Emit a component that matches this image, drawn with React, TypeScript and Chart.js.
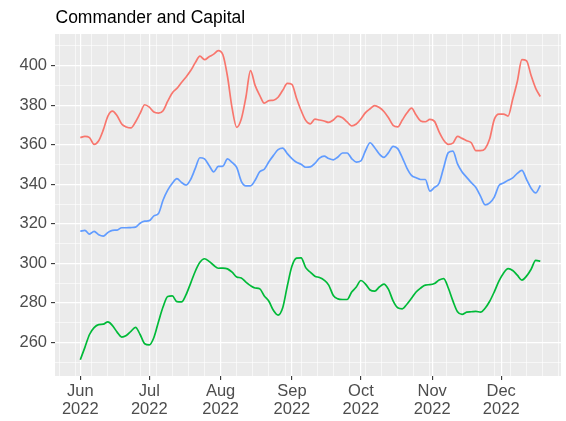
import React, { useEffect, useRef } from "react";
import { Chart, registerables } from "chart.js";

Chart.register(...registerables);

const TITLE = "Commander and Capital";

// days since 2022-06-01
const DAYS = [
  0, 2, 4, 6, 8, 10, 12, 14, 16, 18, 20, 22, 24, 26, 28, 30, 32, 34, 36, 38,
  40, 42, 44, 46, 48, 50, 52, 54, 56, 58, 60, 62, 64, 66, 68, 70, 72, 74, 76, 78,
  80, 82, 84, 86, 88, 90, 92, 94, 96, 98, 100, 102, 104, 106, 108, 110, 112, 114, 116, 118,
  120, 122, 124, 126, 128, 130, 132, 134, 136, 138, 140, 142, 144, 146, 148, 150, 152, 154, 156, 158,
  160, 162, 164, 166, 168, 170, 172, 174, 176, 178, 180, 182, 184, 186, 188, 190, 192, 194, 196, 198,
  200,
];

const RED = [
  363.6, 364.2, 363.6, 360.2, 362.0, 367.5, 374.5, 377.0, 374.6, 370.5,
  369.0, 368.5, 371.5, 375.8, 380.2, 379.0, 376.5, 376.0, 377.2, 382.0,
  386.2, 388.5, 391.5, 394.3, 397.5, 401.5, 404.8, 403.0, 404.5, 405.8,
  407.6, 405.5, 394.5, 378.5, 368.8, 373.0, 384.0, 397.5, 390.0, 385.0,
  381.0, 382.3, 382.5, 384.0, 387.5, 391.0, 390.5, 383.5, 377.3, 372.3,
  370.5, 372.9, 372.5, 372.0, 371.3, 372.5, 374.5, 373.6, 371.5, 369.5,
  370.5, 373.0, 376.2, 378.2, 379.8, 378.8, 376.8, 373.6, 369.8, 369.0,
  372.5, 376.0, 378.5, 375.0, 372.0, 371.6, 372.8, 371.8, 366.5, 362.3,
  360.2, 360.8, 364.2, 363.2, 362.0, 361.0, 357.0, 357.0, 358.0, 363.0,
  372.8, 375.5, 375.5, 374.5, 383.0, 392.0, 403.0, 402.5, 395.0, 388.5,
  384.4,
];

const BLUE = [
  316.2, 316.7, 314.8, 316.2, 314.5, 313.8, 315.6, 316.7, 316.8, 318.0,
  318.0, 318.1, 318.3, 320.3, 321.3, 321.6, 324.0, 325.2, 332.0, 337.0,
  340.5, 342.8, 340.9, 339.6, 342.5, 348.0, 353.4, 352.8, 349.5, 346.3,
  349.0, 349.2, 352.8, 351.0, 348.5, 341.5, 339.2, 339.2, 342.0, 346.3,
  347.6, 351.4, 354.6, 357.5, 358.3, 355.5, 353.0, 351.1, 350.1, 348.6,
  348.8, 350.6, 353.2, 354.2, 353.0, 352.3, 353.8, 355.8, 355.8, 353.0,
  351.2, 351.8, 357.0, 361.0, 358.5, 355.3, 353.6, 356.0, 359.2, 358.0,
  353.5, 348.2, 344.5, 343.3, 342.4, 342.4, 336.5, 338.4, 340.5, 348.5,
  356.0, 356.8, 350.3, 346.2, 343.5, 340.8, 338.4, 334.0, 329.6, 330.6,
  333.5, 339.3, 340.6, 342.0, 343.2, 345.5, 347.0, 342.5, 338.0, 335.6,
  339.4,
];

const GREEN = [
  251.2, 257.5, 264.0, 267.5, 269.0, 269.2, 270.4, 268.5, 265.2, 262.7,
  263.5, 265.6, 267.6, 264.0, 259.3, 258.7, 262.5, 270.5, 278.0, 283.2,
  283.5, 280.6, 280.5, 284.2, 290.0, 296.0, 300.5, 302.3, 301.0, 299.0,
  297.5, 297.6, 297.2, 295.5, 293.1, 292.6, 290.5, 288.7, 287.5, 287.1,
  283.5, 280.8, 276.1, 273.8, 277.5, 288.5, 298.5, 302.6, 302.8, 297.8,
  295.5, 293.5, 292.8, 291.5, 289.0, 283.7, 282.0, 281.7, 281.7, 285.5,
  288.0, 291.3, 289.5, 286.5, 285.9, 288.0, 289.5, 286.8, 281.0, 277.5,
  277.0, 279.3, 282.3, 285.5, 287.5, 289.0, 289.2, 289.8, 291.5, 292.3,
  287.5, 281.0, 275.5, 274.2, 275.3, 275.5, 275.7, 275.3, 277.3, 280.8,
  285.6, 291.0, 295.0, 297.3, 296.4, 294.0, 291.5, 293.5, 297.0, 301.5,
  301.1,
];

const MONTH_LABELS = ["Jun", "Jul", "Aug", "Sep", "Oct", "Nov", "Dec"];
const MONTH_DAYS = [0, 30, 61, 92, 122, 153, 183];
const YEAR_LABEL = "2022";
const Y_MAJOR = [260, 280, 300, 320, 340, 360, 380, 400];

const COLORS = { red: "#F8766D", blue: "#619CFF", green: "#00BA38" };
const FONT = "'Liberation Sans', Arial, sans-serif";

export default function App() {
  const ref = useRef<HTMLCanvasElement | null>(null);

  useEffect(() => {
    document.body.style.margin = "0";
    const canvas = ref.current;
    if (!canvas) return;

    const mk = (vals: number[]) => DAYS.map((d, i) => ({ x: d, y: vals[i] }));

    const bgPlugin = {
      id: "panelBg",
      beforeDraw(chart: any) {
        const { ctx, chartArea } = chart;
        ctx.save();
        ctx.fillStyle = "#EBEBEB";
        ctx.fillRect(chartArea.left, chartArea.top, chartArea.right - chartArea.left, chartArea.bottom - chartArea.top);
        ctx.restore();
      },
      afterDraw(chart: any) {
        const { ctx } = chart;
        ctx.save();
        ctx.fillStyle = "#000000";
        ctx.font = `17.5px ${FONT}`;
        ctx.textBaseline = "alphabetic";
        ctx.textAlign = "left";
        ctx.fillText(TITLE, 55.5, 23);
        ctx.restore();
      },
    };

    const monthSet = new Set(MONTH_DAYS);
    const yMajorSet = new Set(Y_MAJOR);

    const chart = new Chart(canvas, {
      type: "line",
      data: {
        datasets: [
          { label: "red", data: mk(RED), borderColor: COLORS.red },
          { label: "blue", data: mk(BLUE), borderColor: COLORS.blue },
          { label: "green", data: mk(GREEN), borderColor: COLORS.green },
        ].map((d) => ({
          ...d,
          borderWidth: 1.7,
          pointRadius: 0,
          fill: false,
          cubicInterpolationMode: "monotone" as const,
        })),
      },
      options: {
        responsive: false,
        animation: false,
        devicePixelRatio: 1,
        layout: { padding: { top: 34, right: 5, left: 0, bottom: 0 } },
        plugins: { legend: { display: false }, tooltip: { enabled: false }, title: { display: false } },
        scales: {
          x: {
            type: "linear",
            min: -11,
            max: 209,
            afterBuildTicks: (scale: any) => {
              const set = new Set<number>(MONTH_DAYS);
              for (let d = -9; d <= 209; d += 7) set.add(d);
              const vals = Array.from(set).sort((a, b) => a - b);
              scale.ticks = vals.map((v) => ({ value: v }));
            },
            afterFit: (scale: any) => {
              scale.height = 45;
            },
            ticks: {
              autoSkip: false,
              maxRotation: 0,
              minRotation: 0,
              padding: 2,
              color: "#4D4D4D",
              font: { family: FONT, size: 16.5, lineHeight: 1.1 },
              callback: (v: any) => {
                const i = MONTH_DAYS.indexOf(Number(v));
                return i >= 0 ? [MONTH_LABELS[i], YEAR_LABEL] : "";
              },
            },
            grid: {
              color: "#FFFFFF",
              lineWidth: (c: any) => (monthSet.has(c.tick?.value) ? 1.2 : 0.6),
              drawTicks: true,
              tickLength: 4,
              tickWidth: 1.1,
              tickColor: (c: any) => (monthSet.has(c.tick?.value) ? "#333333" : "rgba(0,0,0,0)"),
            },
            border: { display: false },
          },
          y: {
            type: "linear",
            min: 243,
            max: 416,
            afterBuildTicks: (scale: any) => {
              const vals: number[] = [];
              for (let v = 250; v <= 410; v += 10) vals.push(v);
              scale.ticks = vals.map((v) => ({ value: v }));
            },
            afterFit: (scale: any) => {
              scale.width = 55;
            },
            ticks: {
              autoSkip: false,
              padding: 4,
              color: "#4D4D4D",
              font: { family: FONT, size: 16.5 },
              callback: (v: any) => (yMajorSet.has(Number(v)) ? String(v) : ""),
            },
            grid: {
              color: "#FFFFFF",
              lineWidth: (c: any) => (yMajorSet.has(c.tick?.value) ? 1.2 : 0.6),
              drawTicks: true,
              tickLength: 4,
              tickWidth: 1.1,
              tickColor: (c: any) => (yMajorSet.has(c.tick?.value) ? "#333333" : "rgba(0,0,0,0)"),
            },
            border: { display: false },
          },
        },
      },
      plugins: [bgPlugin],
    });

    return () => chart.destroy();
  }, []);

  return (
    <div style={{ width: 566, height: 421 }}>
      <canvas ref={ref} width={566} height={421} style={{ display: "block" }} />
    </div>
  );
}
